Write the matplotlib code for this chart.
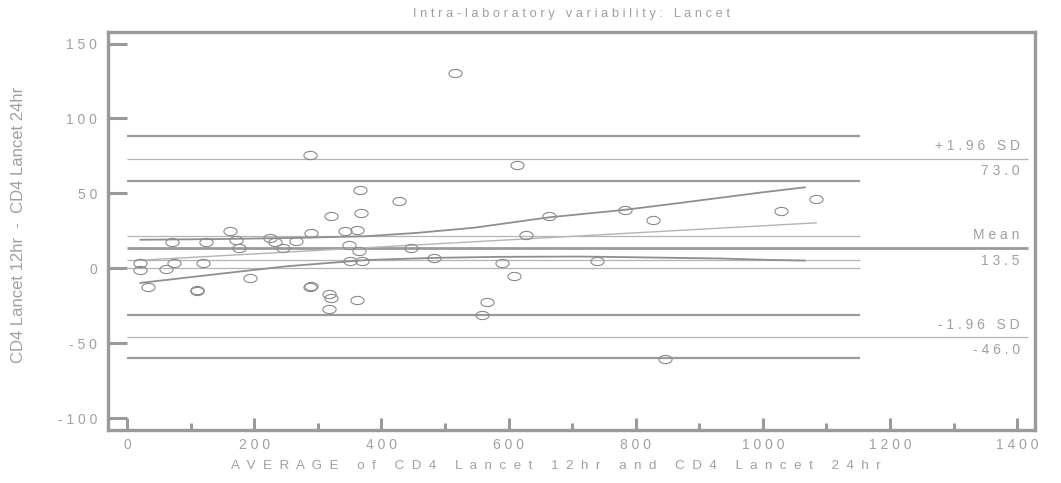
import numpy as np
import matplotlib.pyplot as plt
from matplotlib.path import Path

plt.rcParams['font.family'] = ['Liberation Sans', 'DejaVu Sans']

# 점 데이터 (평균, 차이)
avg = [162, 70, 124, 172, 176, 225, 233, 246, 266, 289,
       20, 20, 61, 74, 120, 193, 33, 110, 110, 288,
       289, 366, 428, 320, 368, 342, 361, 349, 365, 447,
       351, 370, 483, 589, 318, 320, 318, 361, 566, 559,
       664, 783, 827, 627, 739, 609, 1029, 1083, 846, 516,
       288, 614]
diff = [24.7, 17.6, 17.2, 19.0, 13.6, 20.0, 17.4, 13.6, 18.5, 23.8,
        3.6, -1.3, -0.2, 3.6, 3.6, -6.4, -12.4, -14.4, -15.2, -12.7,
        -12.2, 51.9, 44.7, 34.7, 37.0, 24.7, 25.6, 15.8, 11.8, 13.6,
        4.9, 4.9, 6.9, 3.6, -17.1, -20.2, -27.1, -21.4, -22.4, -31.1,
        34.7, 38.7, 32.0, 22.0, 4.9, -5.3, 38.5, 45.9, -60.3, 130.6,
        75.9, 68.6]

# 평균 / 일치한계
mean_val = 13.5
upper_loa = 73.0
lower_loa = -46.0
mean_ci = [5.2, 21.7]
upper_ci = [58.4, 88.0]
lower_ci = [-31.5, -60.2]

# 회귀선과 곡선
reg_x = [10, 1084]
reg_y = [5.1, 30.3]
upper_x = [21, 150, 272, 377, 456, 545, 664, 783, 870, 1000, 1066]
upper_y = [19.0, 19.5, 20.3, 21.4, 23.6, 27.0, 34.0, 39.0, 43.6, 50.7, 54.0]
lower_x = [21, 146, 251, 377, 482, 586, 713, 817, 932, 1006, 1066]
lower_y = [-9.8, -3.7, 1.3, 5.5, 6.9, 7.6, 7.8, 7.2, 6.5, 5.6, 5.1]

xticks = [0, 200, 400, 600, 800, 1000, 1200, 1400]
yticks = [-100, -50, 0, 50, 100, 150]

gray = '#9a9a9a'
light = '#b4b4b4'
txt = '#a0a0a0'


def spaced(s, gap=' '):
    return gap.join(s)


fig = plt.figure(figsize=(10.61, 4.83), dpi=100)
ax = fig.add_axes([108 / 1061, 1 - 430 / 483, (1035 - 108) / 1061, (430 - 32) / 483])
ax.set_xlim(-30, 1428)
ax.set_ylim(-108, 157.7)

# 가로선
ax.hlines(upper_ci + lower_ci, 0, 1152, color=gray, lw=1.6)
ax.hlines(mean_ci + [0], 0, 1152, color=light, lw=0.9)
ax.hlines([upper_loa, lower_loa], 0, 1417, color=light, lw=0.9)
ax.hlines(mean_val, 0, 1417, color=gray, lw=2.0)

ax.plot(reg_x, reg_y, color=light, lw=1.0)
ax.plot(upper_x, upper_y, color='#8f8f8f', lw=1.3)
ax.plot(lower_x, lower_y, color='#8f8f8f', lw=1.3)

# 타원 마커
t = np.linspace(0, 2 * np.pi, 40)
ellipse = Path(np.column_stack([np.cos(t), 0.62 * np.sin(t)]), closed=True)
ax.plot(avg, diff, ls='none', marker=ellipse, ms=9.5, mfc='none',
        mec='#8a8a8a', mew=0.8)

# 오른쪽 라벨
for y, name, val in [(upper_loa, '+1.96 SD', '73.0'),
                     (mean_val, 'Mean', '13.5'),
                     (lower_loa, '-1.96 SD', '-46.0')]:
    ax.annotate(spaced(name), (1404, y), xytext=(0, 4), textcoords='offset points',
                ha='right', va='bottom', color=txt, fontsize=10)
    ax.annotate(spaced(val), (1404, y), xytext=(0, -4), textcoords='offset points',
                ha='right', va='top', color=txt, fontsize=10)

for s in ax.spines.values():
    s.set_color(gray)
    s.set_linewidth(2.4)

ax.set_xticks(xticks)
ax.set_xticklabels([spaced(str(v)) for v in xticks])
ax.set_xticks(range(100, 1400, 200), minor=True)
ax.set_yticks(yticks)
ax.set_yticklabels([spaced(str(v)) for v in yticks])
ax.tick_params(axis='y', direction='in', length=13.7, width=2.2, color=gray,
               labelcolor=txt, labelsize=10, pad=8)
ax.tick_params(axis='x', which='major', direction='in', length=8.6, width=2.2,
               color=gray, labelcolor=txt, labelsize=10, pad=6)
ax.tick_params(axis='x', which='minor', direction='in', length=5, width=2.2,
               color=gray)

ax.set_title(spaced('Intra-laboratory variability: Lancet'), color=txt,
             fontsize=9.3, pad=11)
ax.set_xlabel(spaced('AVERAGE of CD4 Lancet 12hr and CD4 Lancet 24hr', '  '),
              color=txt, fontsize=9.6)
ax.xaxis.set_label_coords(0.483, -0.075)
ax.set_ylabel('CD4 Lancet 12hr  -  CD4 Lancet 24hr', color=txt, fontsize=12)
ax.yaxis.set_label_coords(-0.088, 0.515)

plt.savefig('out.png', dpi=100)
